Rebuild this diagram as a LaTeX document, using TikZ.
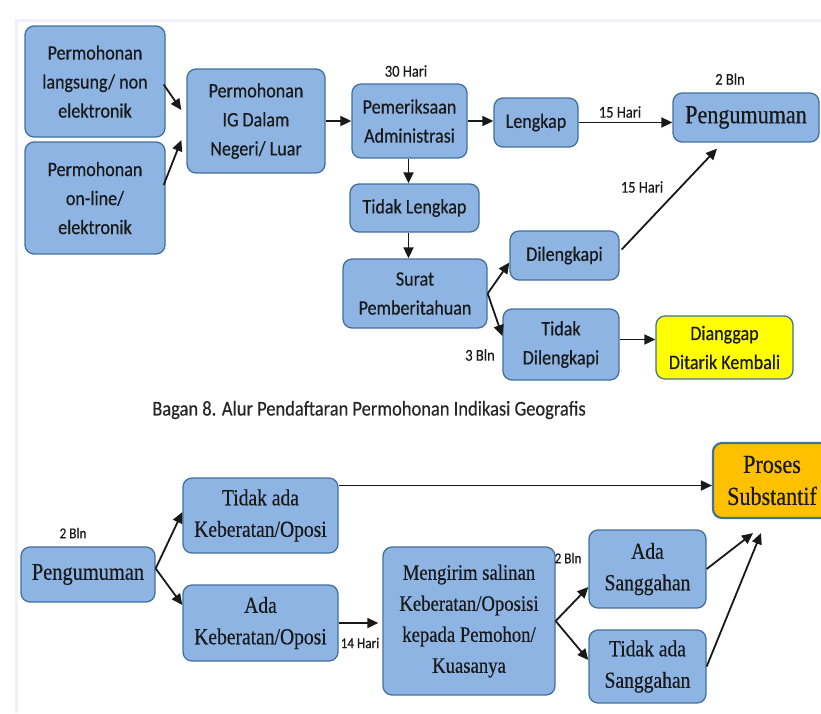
\documentclass[tikz,border=0pt]{standalone}
\usepackage{fontspec}
\setmainfont[FakeStretch=0.85,FakeBold=0.4]{Liberation Serif}
\newfontfamily\calfont[FakeStretch=0.88,FakeBold=0.4]{Carlito}
\usetikzlibrary{arrows.meta,calc}
\definecolor{boxfill}{HTML}{8EB4E3}
\definecolor{boxline}{HTML}{41719C}
\definecolor{yel}{HTML}{FFFF00}
\definecolor{orng}{HTML}{FFC000}
\definecolor{pageedge}{HTML}{EEF1F8}
\begin{document}
\begin{tikzpicture}[x=1pt,y=-1pt,
 box/.style={draw=boxline, fill=boxfill, line width=1.3pt, rounded corners=9pt, align=center, inner sep=0pt, text=black!90},
 tbox/.style={box, font=\calfont\fontsize{20.5}{29}\selectfont},
 sbox/.style={box, font=\fontsize{23}{31.5}\selectfont},
 lbl/.style={font=\calfont\fontsize{16.5}{18}\selectfont, inner sep=0pt, text=black!90},
 slbl/.style={font=\calfont\fontsize{15}{17}\selectfont, inner sep=0pt, text=black!90},
 arr/.style={-{Triangle[length=11pt,width=10pt]}, line width=1.8pt, draw=black!90},
]
\useasboundingbox (0,0) rectangle (821,713);
\clip (0,0) rectangle (821,713);
\fill[white] (0,0) rectangle (821,713);
\draw[pageedge, line width=3pt] (16,713) -- (16,20) -- (821,20);

% ---- top section ----
\node[tbox, minimum width=140pt, minimum height=111pt] (A) at (95,81.5) {Permohonan\\langsung/ non\\elektronik};
\node[tbox, minimum width=140pt, minimum height=112pt] (B) at (95,198) {Permohonan\\on-line/\\elektronik};
\node[tbox, minimum width=138pt, minimum height=104pt] (C) at (256,121) {Permohonan\\IG Dalam\\Negeri/ Luar};
\node[tbox, minimum width=115pt, minimum height=74pt] (D) at (409.5,121) {Pemeriksaan\\Administrasi};
\node[tbox, minimum width=84pt, minimum height=49pt] (E) at (536,122.5) {Lengkap};
\node[box, minimum width=146pt, minimum height=49pt, font=\fontsize{26}{30}\selectfont] (F) at (746,117.5) {Pengumuman};
\node[tbox, minimum width=129pt, minimum height=48pt] (G) at (414.5,208) {Tidak Lengkap};
\node[tbox, minimum width=144pt, minimum height=69pt] (H) at (415,293.5) {Surat\\Pemberitahuan};
\node[tbox, minimum width=109pt, minimum height=49pt] (I) at (564.5,255.5) {Dilengkapi};
\node[tbox, minimum width=116pt, minimum height=71pt] (J) at (561,344.5) {Tidak\\Dilengkapi};
\node[tbox, fill=yel, minimum width=137pt, minimum height=63pt] (K) at (724.5,347.5) {Dianggap\\Ditarik Kembali};

\node[lbl] (l30) at (406,71) {30 Hari};
\node[lbl] (l2a) at (730,79) {2 Bln};
\node[lbl] (l15a) at (620,112) {15 Hari};
\node[lbl] (l15b) at (642,187) {15 Hari};
\node[lbl] (l3) at (480,355) {3 Bln};

\coordinate (aout) at ($(A.east)+(-2,3)$);
\coordinate (cin1) at ($(C.west)+(-5,-11)$);
\coordinate (bout) at ($(B.east)+(-2,-13)$);
\coordinate (cin2) at ($(C.west)+(-5,19)$);
\coordinate (iout) at ($(I.east)+(2,-6)$);
\coordinate (fin) at ($(F.south)+(-29,6)$);
\coordinate (jout) at ($(J.east)+(0,-5)$);
\coordinate (dg) at ([xshift=-1pt]D.south);

\draw[arr] (aout) -- (cin1);
\draw[arr] (bout) -- (cin2);
\draw[arr] (C.east) -- (D.west);
\draw[arr] (D.east) -- (D.east -| E.west);
\draw[arr] (E.east) -- (E.east -| F.west);
\draw[arr] (dg) -- (dg |- G.north);
\draw[arr] (dg |- G.south) -- (dg |- H.north);
\draw[arr] (H.east) -- ($(I.west)+(0,7)$);
\draw[arr] (H.east) -- ($(J.west)+(0,-8.5)$);
\draw[arr] (iout) -- (fin);
\draw[arr] (jout) -- (jout -| K.west);

% ---- caption ----
\node[font=\calfont\fontsize{21}{24}\selectfont, text=black!85, inner sep=0pt] (cap) at (369,410) {Bagan 8. Alur Pendaftaran Permohonan Indikasi Geografis};

% ---- bottom section ----
\node[box, minimum width=134pt, minimum height=55pt, font=\fontsize{24}{28}\selectfont] (P) at (88,574.5) {Pengumuman};
\node[sbox, minimum width=155pt, minimum height=75pt] (TK) at (260.5,515.5) {Tidak ada\\Keberatan/Oposi};
\node[sbox, minimum width=155pt, minimum height=76pt] (AK) at (260.5,623) {Ada\\Keberatan/Oposi};
\node[box, minimum width=172pt, minimum height=148pt, font=\fontsize{22}{31}\selectfont] (M) at (469,621) {Mengirim salinan\\Keberatan/Oposisi\\kepada Pemohon/\\Kuasanya};
\node[sbox, minimum width=117pt, minimum height=78pt] (AS) at (647.5,569) {Ada\\Sanggahan};
\node[sbox, minimum width=117pt, minimum height=73pt] (TS) at (647.5,666.5) {Tidak ada\\Sanggahan};
\node[box, fill=orng, line width=2.2pt, minimum width=118pt, minimum height=75pt, font=\fontsize{26}{32}\selectfont] (PS) at (772,480.5) {Proses\\Substantif};

\node[slbl] (l2b) at (73,533) {2 Bln};
\node[slbl] (l14) at (360,643) {14 Hari};
\node[slbl] (l2c) at (568,558) {2 Bln};

\coordinate (pout) at ($(P.east)+(0,-6)$);
\coordinate (tkout) at ($(TK.east)+(0,-30)$);
\draw[arr] (pout) -- ($(TK.west)+(0,-3.5)$);
\draw[arr] (pout) -- ($(AK.west)+(0,-18)$);
\draw[arr] (tkout) -- (tkout -| PS.west);
\draw[arr, shorten >=4pt] (AK.east) -- (AK.east -| M.west);
\draw[arr] (M.east) -- ($(AS.west)+(0,18)$);
\draw[arr] (M.east) -- ($(TS.west)+(0,-6.5)$);
\draw[arr] (AS.east) -- ($(PS.south)+(-19,14)$);
\draw[arr] (TS.east) -- ($(PS.south)+(-11,14)$);
\end{tikzpicture}
\end{document}
